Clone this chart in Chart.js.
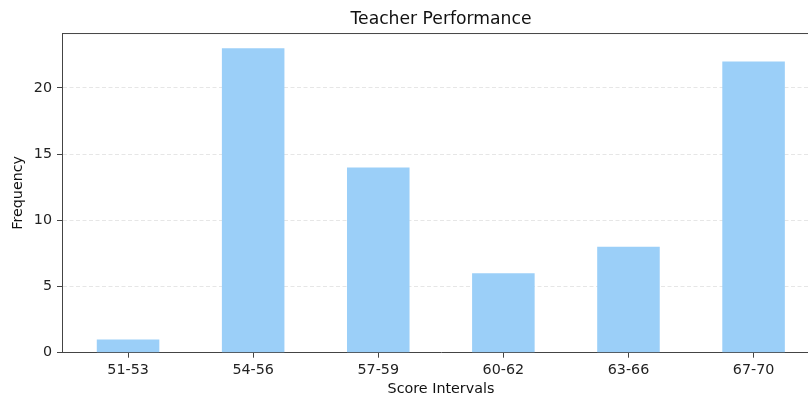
<!DOCTYPE html>
<html>
<head>
<meta charset="utf-8">
<script src="https://cdn.jsdelivr.net/npm/chart.js@4"></script>
<style>
  html, body { margin: 0; padding: 0; background: #fff; overflow: hidden; }
  #wrap { width: 808px; height: 398px; overflow: hidden; }
</style>
</head>
<body>
<div id="wrap"><canvas id="myChart" width="820" height="398"></canvas></div>
<script>
// data
var intervals = ['51-53', '54-56', '57-59', '60-62', '63-66', '67-70'];
var frequency = [1, 23, 14, 6, 8, 22];
var yTicks = [0, 5, 10, 15, 20];

var barColor = 'rgb(155, 207, 248)';
var spineColor = '#444';
var fontFam = '"DejaVu Sans", sans-serif';

// top spine (the right one falls outside the visible window)
var topLine = {
  id: 'topLine',
  afterDraw: function(chart) {
    var a = chart.chartArea, c = chart.ctx;
    c.save();
    c.strokeStyle = spineColor;
    c.lineWidth = 1;
    c.beginPath();
    c.moveTo(a.left, a.top + 0.5);
    c.lineTo(a.right, a.top + 0.5);
    c.stroke();
    c.restore();
  }
};

var pts = intervals.map(function(lab, i) { return { x: i, y: frequency[i] }; });

var ctx = document.getElementById('myChart').getContext('2d');
var myChart = new Chart(ctx, {
  type: 'bar',
  data: {
    datasets: [{
      label: 'Frequency',
      data: pts,
      backgroundColor: barColor,
      borderWidth: 0,
      barPercentage: 0.5,
      categoryPercentage: 1
    }]
  },
  options: {
    responsive: false,
    animation: false,
    layout: { padding: 0 },
    plugins: {
      legend: { display: false },
      tooltip: { enabled: false },
      title: {
        display: true,
        fullSize: false,
        text: 'Teacher Performance',
        color: '#111',
        font: { family: fontFam, size: 17.2, weight: 'normal' },
        padding: { top: 9.4, bottom: 3 }
      }
    },
    scales: {
      x: {
        type: 'linear',
        offset: false,
        min: -0.528,
        max: 5.531,
        afterFit: function(s) { s.height = 45.3; },
        afterBuildTicks: function(s) {
          s.ticks = intervals.map(function(l, i) { return { value: i }; });
        },
        grid: {
          offset: false,
          drawOnChartArea: false,
          tickLength: 5,
          tickColor: spineColor
        },
        border: { color: spineColor, width: 1 },
        ticks: {
          color: '#222',
          padding: 4,
          font: { family: fontFam, size: 14.3 },
          callback: function(v) { return intervals[v]; }
        },
        title: {
          display: true,
          text: 'Score Intervals',
          color: '#111',
          font: { family: fontFam, size: 14.3 },
          padding: { top: 0, bottom: 0.5 }
        }
      },
      y: {
        min: 0,
        max: 24.15,
        afterFit: function(s) { s.width = 62; },
        afterBuildTicks: function(s) {
          s.ticks = yTicks.map(function(v) { return { value: v }; });
        },
        grid: {
          color: function(c) { return c.tick && c.tick.value === 0 ? 'rgba(0,0,0,0)' : 'rgba(200,200,200,0.45)'; },
          lineWidth: 1,
          tickLength: 5,
          tickColor: spineColor,
          tickBorderDash: []
        },
        border: { color: spineColor, width: 1, dash: [4, 2.5] },
        ticks: {
          color: '#222',
          padding: 5,
          font: { family: fontFam, size: 14.3 }
        },
        title: {
          display: true,
          text: 'Frequency',
          color: '#111',
          font: { family: fontFam, size: 14.3 },
          padding: { top: 10, bottom: 0 }
        }
      }
    }
  },
  plugins: [topLine]
});
</script>
</body>
</html>
